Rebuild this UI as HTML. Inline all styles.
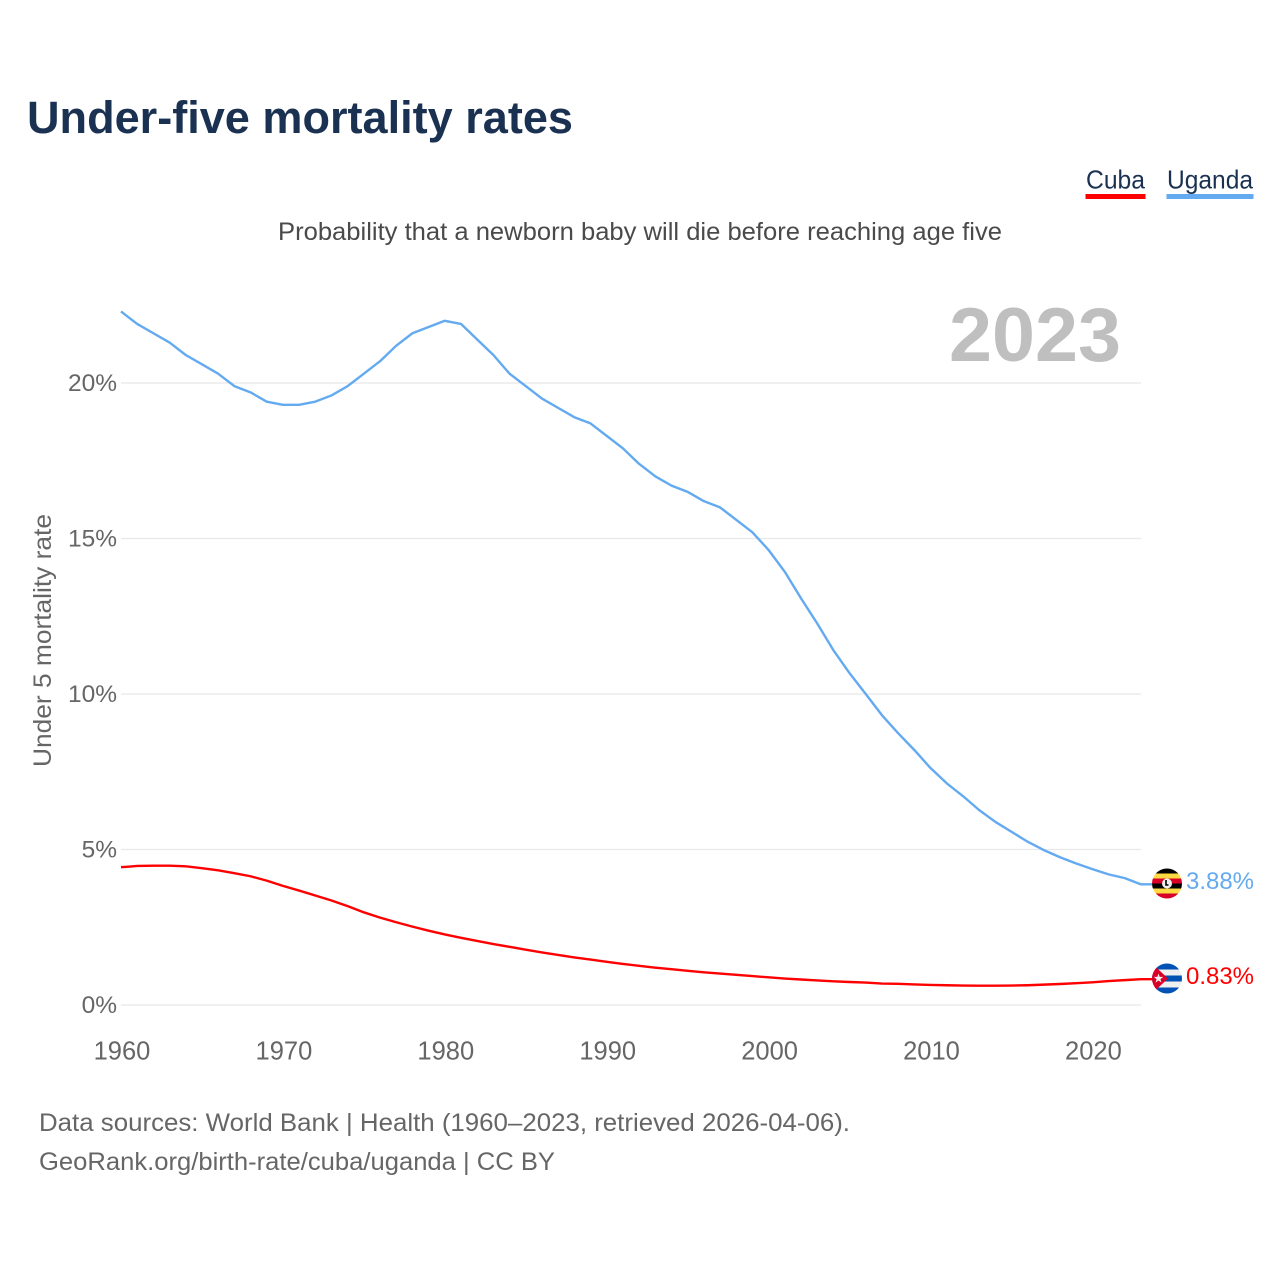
<!DOCTYPE html>
<html lang="en">
<head>
<meta charset="utf-8">
<title>Under-five mortality rates</title>
<style>
html,body{margin:0;padding:0;background:#fff;}
svg{display:block;font-family:"Liberation Sans",sans-serif;}
</style>
</head>
<body>
<svg id="chart" xmlns="http://www.w3.org/2000/svg" width="1280" height="1280" viewBox="0 0 1280 1280">
  <defs>
    <clipPath id="flag-clip-u"><circle cx="1167" cy="883.5" r="15"/></clipPath>
    <clipPath id="flag-clip-c"><circle cx="1167" cy="978.5" r="15"/></clipPath>
  </defs>
  <rect width="1280" height="1280" fill="#fff"/>
  <text x="27" y="133" font-size="45" font-weight="700" fill="#1a3152" textLength="546" lengthAdjust="spacingAndGlyphs">Under-five mortality rates</text>
  <text x="278" y="240" font-size="25" fill="#4a4a4a" textLength="724" lengthAdjust="spacingAndGlyphs">Probability that a newborn baby will die before reaching age five</text>
  <g>
    <g>
      <text x="1086" y="188.5" font-size="26" fill="#1a3152" textLength="59" lengthAdjust="spacingAndGlyphs">Cuba</text>
      <rect x="1085.5" y="194" width="60" height="5" fill="#ff0000"/>
    </g>
    <g>
      <text x="1167" y="188.5" font-size="26" fill="#1a3152" textLength="86" lengthAdjust="spacingAndGlyphs">Uganda</text>
      <rect x="1166.5" y="194" width="87" height="5" fill="#63aaf0"/>
    </g>
  </g>
  <text transform="translate(51,767) rotate(-90)" font-size="25" fill="#666" textLength="253" lengthAdjust="spacingAndGlyphs">Under 5 mortality rate</text>
  <g id="grid"></g>
  <g id="yticks"></g>
  <g id="xticks"></g>
  <text x="949" y="361" font-size="76" font-weight="700" fill="#bfbfbf" textLength="172" lengthAdjust="spacingAndGlyphs">2023</text>
  <g id="lines"></g>

  <g clip-path="url(#flag-clip-u)">
    <rect x="1152" y="868.5" width="30" height="5" fill="#000"/>
    <rect x="1152" y="873.5" width="30" height="5" fill="#ffda44"/>
    <rect x="1152" y="878.5" width="30" height="5" fill="#d80027"/>
    <rect x="1152" y="883.5" width="30" height="5" fill="#000"/>
    <rect x="1152" y="888.5" width="30" height="5" fill="#ffda44"/>
    <rect x="1152" y="893.5" width="30" height="5" fill="#d80027"/>
    <circle cx="1167" cy="883.5" r="5" fill="#f0f0f0"/>
    <path d="M1166 880v5h2.5" stroke="#000" stroke-width="1.6" fill="none"/>
  </g>
  <g clip-path="url(#flag-clip-c)">
    <rect x="1152" y="963.5" width="30" height="30" fill="#f0f0f0"/>
    <rect x="1152" y="963.5" width="30" height="6" fill="#0052b4"/>
    <rect x="1152" y="975.5" width="30" height="6" fill="#0052b4"/>
    <rect x="1152" y="987.5" width="30" height="6" fill="#0052b4"/>
    <path d="M1152 963.5L1168 978.5L1152 993.5Z" fill="#d80027"/>
    <path d="M1158.5 973.5l1.2 3.4h3.6l-2.9 2.2 1.1 3.5-3-2.1-3 2.1 1.1-3.5-2.9-2.2h3.6z" fill="#f0f0f0"/>
  </g>
  <text x="1186" y="889" font-size="24.5" fill="#63aaf0" textLength="68" lengthAdjust="spacingAndGlyphs">3.88%</text>
  <text x="1186" y="984" font-size="24.5" fill="#ff0000" textLength="68" lengthAdjust="spacingAndGlyphs">0.83%</text>

  <text x="39" y="1131" font-size="25" fill="#666" textLength="811" lengthAdjust="spacingAndGlyphs">Data sources: World Bank | Health (1960–2023, retrieved 2026-04-06).</text>
  <a><text x="39" y="1170" font-size="25" fill="#666" textLength="516" lengthAdjust="spacingAndGlyphs">GeoRank.org/birth-rate/cuba/uganda | CC BY</text></a>
</svg>
<script>
var firstYear = 1960;
var ugandaValues = [22.3,21.9,21.6,21.3,20.9,20.6,20.3,19.9,19.7,19.4,19.3,19.3,19.4,19.6,19.9,20.3,20.7,21.2,21.6,21.8,22.0,21.9,21.4,20.9,20.3,19.9,19.5,19.2,18.9,18.7,18.3,17.9,17.4,17.0,16.7,16.5,16.2,16.0,15.6,15.2,14.63,13.93,13.08,12.27,11.41,10.67,10.0,9.32,8.74,8.2,7.62,7.13,6.72,6.27,5.89,5.57,5.25,4.98,4.75,4.55,4.37,4.2,4.08,3.88];
var cubaValues = [4.43,4.47,4.48,4.48,4.46,4.40,4.33,4.24,4.14,4.00,3.83,3.68,3.52,3.36,3.18,2.98,2.81,2.66,2.52,2.39,2.27,2.16,2.06,1.96,1.87,1.78,1.69,1.61,1.53,1.46,1.39,1.32,1.26,1.20,1.15,1.10,1.05,1.01,0.97,0.93,0.89,0.85,0.82,0.79,0.76,0.74,0.72,0.69,0.68,0.66,0.645,0.635,0.625,0.62,0.62,0.625,0.635,0.655,0.675,0.70,0.73,0.77,0.80,0.83];
var xTickYears = [1960,1970,1980,1990,2000,2010,2020];
var yTickValues = [0,5,10,15,20];
var yTickLabels = ["0%","5%","10%","15%","20%"];

var SVGNS = "http://www.w3.org/2000/svg";
function xScale(year){ return 121 + (year - 1960) * 16.19; }
function yScale(v){ return 1005 - v * 31.1; }

var grid = document.getElementById("grid");
var yticks = document.getElementById("yticks");
var xticks = document.getElementById("xticks");
var lines = document.getElementById("lines");

yTickValues.forEach(function(v, i){
  var gy = yScale(v);
  var line = document.createElementNS(SVGNS, "line");
  
  
  line.setAttribute("x1", xScale(firstYear));
  line.setAttribute("x2", xScale(2023));
  line.setAttribute("y1", gy);
  line.setAttribute("y2", gy);
  line.setAttribute("stroke", "#e8e8e8");
  line.setAttribute("stroke-width", "1.2");
  grid.appendChild(line);

  var t = document.createElementNS(SVGNS, "text");
  
  
  t.setAttribute("x", 117);
  t.setAttribute("y", gy + 8);
  t.setAttribute("text-anchor", "end");
  t.setAttribute("font-size", "24.5");
  t.setAttribute("fill", "#666");
  t.textContent = yTickLabels[i];
  yticks.appendChild(t);
});

xTickYears.forEach(function(yr){
  var t = document.createElementNS(SVGNS, "text");
  
  
  t.setAttribute("x", xScale(yr) + 1);
  t.setAttribute("y", 1059.5);
  t.setAttribute("text-anchor", "middle");
  t.setAttribute("font-size", "25.5");
  t.setAttribute("fill", "#666");
  t.textContent = String(yr);
  xticks.appendChild(t);
});

function linePoints(values){
  return values.map(function(v, i){
    return xScale(firstYear + i).toFixed(2) + "," + yScale(v).toFixed(2);
  });
}

function drawSeries(values, color, seriesName){
  var pts = linePoints(values);
  var last = yScale(values[values.length - 1]).toFixed(2);
  pts.push("1152," + last);
  var p = document.createElementNS(SVGNS, "polyline");
  
  
  p.setAttribute("points", pts.join(" "));
  p.setAttribute("fill", "none");
  p.setAttribute("stroke", color);
  p.setAttribute("stroke-width", "2.4");
  p.setAttribute("stroke-linejoin", "round");
  lines.appendChild(p);
}
drawSeries(ugandaValues, "#63aaf0", "uganda-line");
drawSeries(cubaValues, "#ff0000", "cuba-line");
</script>
</body>
</html>
